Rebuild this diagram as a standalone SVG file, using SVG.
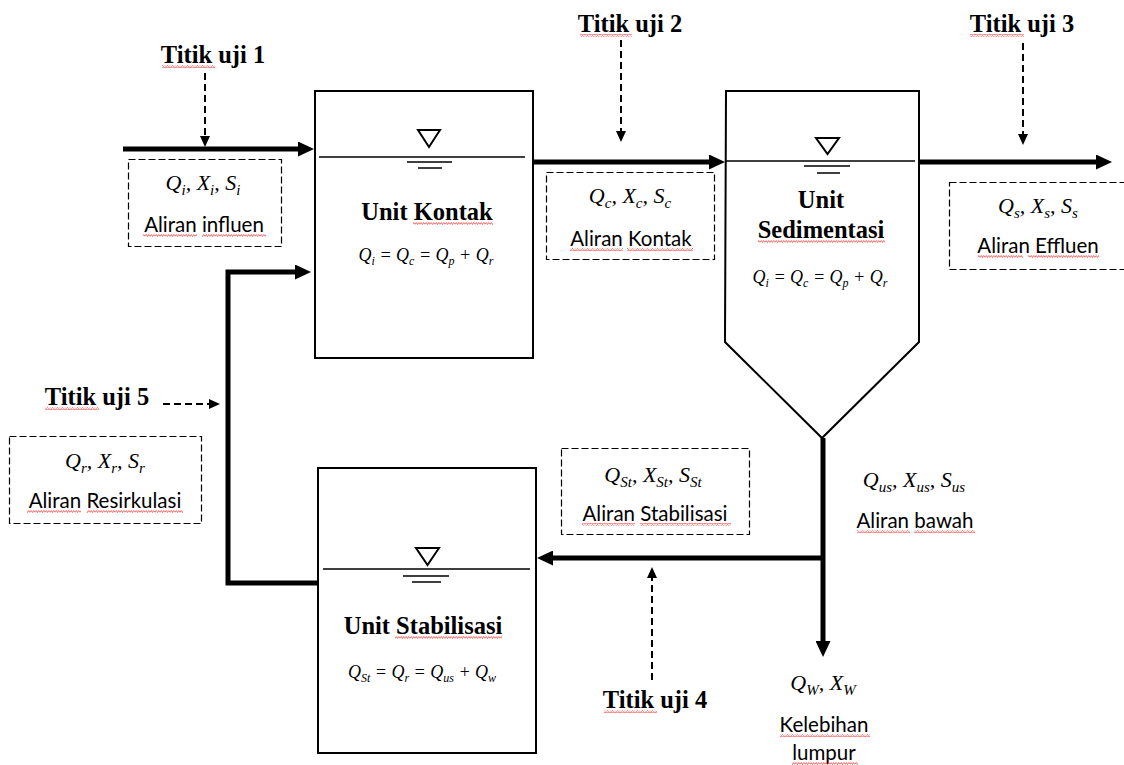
<svg xmlns="http://www.w3.org/2000/svg" width="1124" height="765" viewBox="0 0 1124 765">
<style>
.bg{fill:#fff}
.box{fill:none;stroke:#000;stroke-width:2}
.wl{stroke:#000;stroke-width:1.5;fill:none}
.tri{fill:none;stroke:#000;stroke-width:2}
.pipe{fill:none;stroke:#000;stroke-width:5}
.dash{fill:none;stroke:#000;stroke-width:2;stroke-dasharray:7 4}
.dbox{fill:none;stroke:#000;stroke-width:1.2;stroke-dasharray:7 3}
.t{font-family:"Liberation Serif",serif;font-weight:bold;font-size:24.5px;fill:#000}
.b{font-family:Lato,"Liberation Sans",sans-serif;font-size:20.5px;fill:#000}
.m{font-family:"Liberation Serif",serif;font-style:italic;font-size:22px;fill:#000}
.m .s{font-size:15px}
.f{font-family:"Liberation Serif",serif;font-style:italic;font-size:18px;fill:#000}
.f .s{font-size:12px}
.sq{fill:url(#wave)}
</style>
<defs>
<marker id="ah" viewBox="0 0 16 15" refX="0" refY="7.5" markerWidth="16" markerHeight="15" markerUnits="userSpaceOnUse" orient="auto">
<path d="M0,0 L16,7.5 L0,15 z" fill="#000"/>
</marker>
<marker id="dh" viewBox="0 0 11 10" refX="0" refY="5" markerWidth="11" markerHeight="10" markerUnits="userSpaceOnUse" orient="auto">
<path d="M0,0 L11,5 L0,10 z" fill="#000"/>
</marker>
<pattern id="wave" width="5" height="3" patternUnits="userSpaceOnUse">
<path d="M0,2.5 L1.25,0.5 L2.5,2.5 L3.75,0.5 L5,2.5" fill="none" stroke="#e33" stroke-width="0.7"/>
</pattern>
</defs>
<rect class="bg" x="0" y="0" width="1124" height="765"/>

<g id="connectors">
<path class="pipe" d="M123,149 H298" marker-end="url(#ah)"/>
<path class="pipe" d="M533,162 H709" marker-end="url(#ah)"/>
<path class="pipe" d="M919,162 H1096" marker-end="url(#ah)"/>
<path class="pipe" d="M823,438 V641" marker-end="url(#ah)"/>
<path class="pipe" d="M825,558 H553" marker-end="url(#ah)"/>
<path class="pipe" d="M318,583 H228 V272 H295" marker-end="url(#ah)"/>
<path class="dash" d="M205,73 V136" marker-end="url(#dh)"/>
<path class="dash" d="M621,40 V131" marker-end="url(#dh)"/>
<path class="dash" d="M1023,43 V134" marker-end="url(#dh)"/>
<path class="dash" d="M652,680 V578" marker-end="url(#dh)"/>
<path class="dash" d="M163,404 H209" marker-end="url(#dh)"/>
</g>

<g id="unit-kontak">
<rect class="box" x="315" y="91" width="218" height="267"/>
<path class="wl" d="M319,157 H525 M407,162 H452 M418,168 H442"/>
<path class="tri" d="M418,130 H440 L429,147 z"/>
<text class="t" x="427" y="220" text-anchor="middle">Unit Kontak</text>
<rect class="sq" x="413" y="222" width="80" height="3"/>
<text class="f" x="426" y="261" text-anchor="middle">Q<tspan class="s" dy="4">i</tspan><tspan dy="-4"> = Q</tspan><tspan class="s" dy="4">c</tspan><tspan dy="-4"> = Q</tspan><tspan class="s" dy="4">p</tspan><tspan dy="-4"> + Q</tspan><tspan class="s" dy="4">r</tspan></text>
</g>

<g id="unit-sedimentasi">
<path class="box" d="M726,91 H919 V342 L822,438 L725,342 z"/>
<path class="wl" d="M726,161 H915 M804,166 H850 M817,173 H840"/>
<path class="tri" d="M816,138 H839 L827.5,154 z"/>
<text class="t" x="821" y="208" text-anchor="middle">Unit</text>
<text class="t" x="821" y="238" text-anchor="middle">Sedimentasi</text>
<rect class="sq" x="758" y="240" width="127" height="3"/>
<text class="f" x="820" y="283" text-anchor="middle">Q<tspan class="s" dy="4">i</tspan><tspan dy="-4"> = Q</tspan><tspan class="s" dy="4">c</tspan><tspan dy="-4"> = Q</tspan><tspan class="s" dy="4">p</tspan><tspan dy="-4"> + Q</tspan><tspan class="s" dy="4">r</tspan></text>
</g>

<g id="unit-stabilisasi">
<rect class="box" x="318" y="468" width="218" height="285"/>
<path class="wl" d="M323,569 H530 M403,576 H449 M412,582 H441"/>
<path class="tri" d="M416,548 H439 L427.5,565 z"/>
<text class="t" x="423" y="634" text-anchor="middle">Unit Stabilisasi</text>
<rect class="sq" x="395" y="636" width="107" height="3"/>
<text class="f" x="422" y="678" text-anchor="middle">Q<tspan class="s" dy="4">St</tspan><tspan dy="-4"> = Q</tspan><tspan class="s" dy="4">r</tspan><tspan dy="-4"> = Q</tspan><tspan class="s" dy="4">us</tspan><tspan dy="-4"> + Q</tspan><tspan class="s" dy="4">w</tspan></text>
</g>

<g id="titik-uji-1">
<text class="t" x="213" y="63" text-anchor="middle">Titik uji 1</text>
<rect class="sq" x="162" y="65" width="53" height="3"/>
</g>
<g id="titik-uji-2">
<text class="t" x="630" y="32" text-anchor="middle">Titik uji 2</text>
<rect class="sq" x="580" y="34" width="52" height="3"/>
</g>
<g id="titik-uji-3">
<text class="t" x="1022" y="32" text-anchor="middle">Titik uji 3</text>
<rect class="sq" x="970" y="34" width="54" height="3"/>
</g>
<g id="titik-uji-4">
<text class="t" x="655" y="708" text-anchor="middle">Titik uji 4</text>
<rect class="sq" x="604" y="710" width="53" height="3"/>
</g>
<g id="titik-uji-5">
<text class="t" x="97" y="405" text-anchor="middle">Titik uji 5</text>
<rect class="sq" x="45" y="407" width="54" height="3"/>
</g>

<g id="aliran-influen">
<rect class="dbox" x="128.5" y="159.5" width="153" height="87"/>
<text class="m" x="203" y="190" text-anchor="middle">Q<tspan class="s" dy="5">i</tspan><tspan dy="-5">, X</tspan><tspan class="s" dy="5">i</tspan><tspan dy="-5">, S</tspan><tspan class="s" dy="5">i</tspan></text>
<text class="b" x="204" y="232" text-anchor="middle">Aliran influen</text>
<rect class="sq" x="143" y="234" width="54" height="3"/>
<rect class="sq" x="202" y="234" width="64" height="3"/>
</g>

<g id="aliran-kontak">
<rect class="dbox" x="546.5" y="172.5" width="168" height="87"/>
<text class="m" x="630" y="203" text-anchor="middle">Q<tspan class="s" dy="5">c</tspan><tspan dy="-5">, X</tspan><tspan class="s" dy="5">c</tspan><tspan dy="-5">, S</tspan><tspan class="s" dy="5">c</tspan></text>
<text class="b" x="631" y="246" text-anchor="middle">Aliran Kontak</text>
<rect class="sq" x="570" y="248" width="53" height="3"/>
<rect class="sq" x="627" y="248" width="66" height="3"/>
</g>

<g id="aliran-effluen">
<rect class="dbox" x="949.5" y="182.5" width="185" height="87"/>
<text class="m" x="1038" y="213" text-anchor="middle">Q<tspan class="s" dy="5">s</tspan><tspan dy="-5">, X</tspan><tspan class="s" dy="5">s</tspan><tspan dy="-5">, S</tspan><tspan class="s" dy="5">s</tspan></text>
<text class="b" x="1038" y="253" text-anchor="middle">Aliran Effluen</text>
<rect class="sq" x="978" y="255" width="45" height="3"/>
<rect class="sq" x="1028" y="255" width="71" height="3"/>
</g>

<g id="aliran-resirkulasi">
<rect class="dbox" x="9.5" y="436.5" width="192" height="87"/>
<text class="m" x="105" y="468" text-anchor="middle">Q<tspan class="s" dy="5">r</tspan><tspan dy="-5">, X</tspan><tspan class="s" dy="5">r</tspan><tspan dy="-5">, S</tspan><tspan class="s" dy="5">r</tspan></text>
<text class="b" x="105" y="508" text-anchor="middle">Aliran Resirkulasi</text>
<rect class="sq" x="27" y="510" width="54" height="3"/>
<rect class="sq" x="87" y="510" width="96" height="3"/>
</g>

<g id="aliran-stabilisasi">
<rect class="dbox" x="561.5" y="448.5" width="188" height="86"/>
<text class="m" x="653" y="482" text-anchor="middle">Q<tspan class="s" dy="5">St</tspan><tspan dy="-5">, X</tspan><tspan class="s" dy="5">St</tspan><tspan dy="-5">, S</tspan><tspan class="s" dy="5">St</tspan></text>
<text class="b" x="655" y="521" text-anchor="middle">Aliran Stabilisasi</text>
<rect class="sq" x="582" y="523" width="53" height="3"/>
<rect class="sq" x="640" y="523" width="91" height="3"/>
</g>

<g id="aliran-bawah">
<text class="m" x="914" y="487" text-anchor="middle">Q<tspan class="s" dy="5">us</tspan><tspan dy="-5">, X</tspan><tspan class="s" dy="5">us</tspan><tspan dy="-5">, S</tspan><tspan class="s" dy="5">us</tspan></text>
<text class="b" x="915" y="528" text-anchor="middle">Aliran bawah</text>
<rect class="sq" x="857" y="530" width="53" height="3"/>
<rect class="sq" x="914" y="530" width="61" height="3"/>
</g>

<g id="kelebihan-lumpur">
<text class="m" x="823" y="690" text-anchor="middle">Q<tspan class="s" dy="5">W</tspan><tspan dy="-5">, X</tspan><tspan class="s" dy="5">W</tspan></text>
<text class="b" x="824" y="732" text-anchor="middle">Kelebihan</text>
<rect class="sq" x="780" y="734" width="90" height="3"/>
<text class="b" x="824" y="760" text-anchor="middle">lumpur</text>
<rect class="sq" x="792" y="762" width="66" height="3"/>
</g>
</svg>
